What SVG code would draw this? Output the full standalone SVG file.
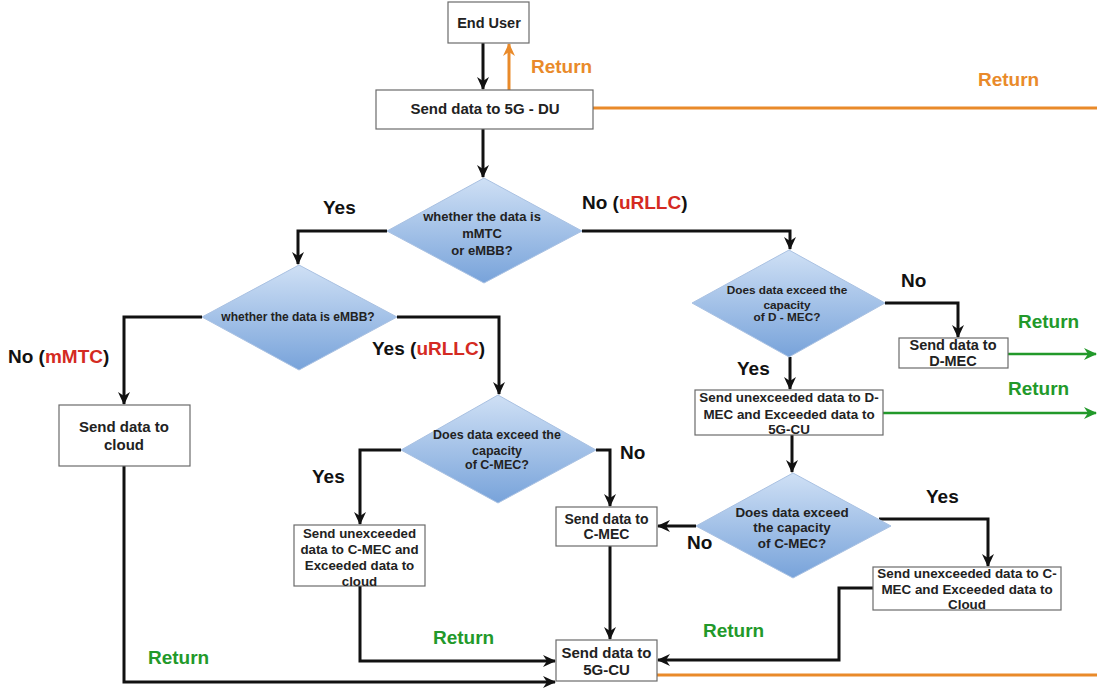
<svg xmlns="http://www.w3.org/2000/svg" width="1097" height="691" viewBox="0 0 1097 691">
<style>
.box{fill:#fff;stroke:#6b6b6b;stroke-width:1.2}
.dia{fill:url(#dg);stroke:#a9c1e2;stroke-width:1}
.t{font-family:"Liberation Sans",Arial,sans-serif;font-weight:bold;fill:#222;text-anchor:middle}
.lbl{font-family:"Liberation Sans",Arial,sans-serif;font-weight:bold;font-size:19px;fill:#111}
.red{fill:#d42a22}
.org{fill:#e98a2a}
.grn{fill:#22992a}
.blk{fill:none;stroke:#111;stroke-width:3}
.ol{fill:none;stroke:#e98a2a;stroke-width:3}
.gl{fill:none;stroke:#22992a;stroke-width:2.5}
</style>
<defs>
<linearGradient id="dg" x1="0" y1="0" x2="0" y2="1">
<stop offset="0" stop-color="#cfe0f5"/>
<stop offset="1" stop-color="#78a3da"/>
</linearGradient>
<marker id="ab" markerUnits="userSpaceOnUse" markerWidth="14" markerHeight="14" refX="12" refY="7" orient="auto">
<path d="M0,1 L13,7 L0,13 L4,7 Z" fill="#111"/>
</marker>
<marker id="ao" markerUnits="userSpaceOnUse" markerWidth="14" markerHeight="14" refX="12" refY="7" orient="auto">
<path d="M0,1 L13,7 L0,13 L4,7 Z" fill="#e98a2a"/>
</marker>
<marker id="ag" markerUnits="userSpaceOnUse" markerWidth="14" markerHeight="14" refX="12" refY="7" orient="auto">
<path d="M0,1 L13,7 L0,13 L4,7 Z" fill="#22992a"/>
</marker>
</defs>

<g id="connectors">
<path class="blk" d="M483,43 V89" marker-end="url(#ab)"/>
<path class="blk" d="M483,129 V177" marker-end="url(#ab)"/>
<path class="blk" d="M387,231 H298 V264" marker-end="url(#ab)"/>
<path class="blk" d="M202,317 H124 V404" marker-end="url(#ab)"/>
<path class="blk" d="M397,317 H499 V394" marker-end="url(#ab)"/>
<path class="blk" d="M401,450 H360 V524" marker-end="url(#ab)"/>
<path class="blk" d="M596,450 H610 V506" marker-end="url(#ab)"/>
<path class="blk" d="M610,546 V639" marker-end="url(#ab)"/>
<path class="blk" d="M360,586 V661 H555" marker-end="url(#ab)"/>
<path class="blk" d="M124,466 V682 H555" marker-end="url(#ab)"/>
<path class="blk" d="M582,231 H790 V249" marker-end="url(#ab)"/>
<path class="blk" d="M885,303 H958 V337" marker-end="url(#ab)"/>
<path class="blk" d="M790,357 V389" marker-end="url(#ab)"/>
<path class="blk" d="M792,435 V472" marker-end="url(#ab)"/>
<path class="blk" d="M696,526 H658" marker-end="url(#ab)"/>
<path class="blk" d="M879,519 H988 V566" marker-end="url(#ab)"/>
<path class="blk" d="M873,588 H839 V660 H658" marker-end="url(#ab)"/>
<path class="ol" d="M509,90 V44" marker-end="url(#ao)"/>
<path class="ol" d="M593,108 H1097"/>
<path class="ol" d="M657,675 H1097"/>
<path class="gl" d="M1008,354 H1096" marker-end="url(#ag)"/>
<path class="gl" d="M883,413 H1096" marker-end="url(#ag)"/>
</g>

<g id="labels">
<text class="lbl org" x="531" y="73">Return</text>
<text class="lbl org" x="978" y="86">Return</text>
<text class="lbl" x="323" y="214">Yes</text>
<text class="lbl" x="582" y="209">No (<tspan class="red">uRLLC</tspan>)</text>
<text class="lbl" x="372" y="355">Yes (<tspan class="red">uRLLC</tspan>)</text>
<text class="lbl" x="8" y="363">No (<tspan class="red">mMTC</tspan>)</text>
<text class="lbl" x="312" y="483">Yes</text>
<text class="lbl" x="620" y="459">No</text>
<text class="lbl grn" x="433" y="644">Return</text>
<text class="lbl grn" x="148" y="664">Return</text>
<text class="lbl" x="901" y="287">No</text>
<text class="lbl grn" x="1018" y="328">Return</text>
<text class="lbl" x="737" y="375">Yes</text>
<text class="lbl grn" x="1008" y="395">Return</text>
<text class="lbl" x="926" y="503">Yes</text>
<text class="lbl" x="687" y="549">No</text>
<text class="lbl grn" x="703" y="637">Return</text>
</g>

<g id="end-user">
<rect class="box" x="448" y="2" width="81" height="41"/>
<text class="t" x="489" y="28" font-size="14.5">End User</text>
</g>
<g id="send-5g-du">
<rect class="box" x="376" y="90" width="217" height="39"/>
<text class="t" x="485" y="114" font-size="15">Send data to 5G - DU</text>
</g>
<g id="dec-mmtc-embb">
<polygon class="dia" points="484,178 582,231 484,283 387,231"/>
<text class="t" x="482" y="220.5" font-size="13">whether the data is</text>
<text class="t" x="482" y="237.5" font-size="13">mMTC</text>
<text class="t" x="482" y="254.5" font-size="13">or eMBB?</text>
</g>
<g id="dec-embb">
<polygon class="dia" points="299,265 397,317 299,370 202,317"/>
<text class="t" x="298" y="321" font-size="12">whether the data is eMBB?</text>
</g>
<g id="send-cloud">
<rect class="box" x="59" y="405" width="131" height="61"/>
<text class="t" x="124" y="432" font-size="15">Send data to</text>
<text class="t" x="124" y="450" font-size="15">cloud</text>
</g>
<g id="dec-cmec-1">
<polygon class="dia" points="498,395 596,450 498,503 401,450"/>
<text class="t" x="497" y="438.5" font-size="12.5">Does data exceed the</text>
<text class="t" x="497" y="454.5" font-size="12.5">capacity</text>
<text class="t" x="497" y="468.5" font-size="12.5">of C-MEC?</text>
</g>
<g id="split-cmec-cloud">
<rect class="box" x="294" y="525" width="131" height="61"/>
<text class="t" x="359.5" y="537.5" font-size="13.3">Send unexceeded</text>
<text class="t" x="359.5" y="553.5" font-size="13.3">data to C-MEC and</text>
<text class="t" x="359.5" y="569.5" font-size="13.3">Exceeded data to</text>
<text class="t" x="359.5" y="585.5" font-size="13.3">cloud</text>
</g>
<g id="send-cmec">
<rect class="box" x="556" y="507" width="101" height="39"/>
<text class="t" x="606.5" y="524" font-size="14">Send data to</text>
<text class="t" x="606.5" y="539" font-size="14">C-MEC</text>
</g>
<g id="send-5g-cu">
<rect class="box" x="556" y="640" width="101" height="41"/>
<text class="t" x="606.5" y="658" font-size="15">Send data to</text>
<text class="t" x="606.5" y="675" font-size="15">5G-CU</text>
</g>
<g id="dec-dmec">
<polygon class="dia" points="789,250 885,303 789,357 692,303"/>
<text class="t" x="787" y="294" font-size="11.8">Does data exceed the</text>
<text class="t" x="787" y="309" font-size="11.8">capacity</text>
<text class="t" x="787" y="321" font-size="11.8">of D - MEC?</text>
</g>
<g id="send-dmec">
<rect class="box" x="899" y="338" width="109" height="30"/>
<text class="t" x="953" y="350" font-size="14.5">Send data to</text>
<text class="t" x="953" y="366" font-size="14.5">D-MEC</text>
</g>
<g id="split-dmec-cu">
<rect class="box" x="695" y="390" width="188" height="45"/>
<text class="t" x="789" y="401.5" font-size="13.4">Send unexceeded data to D-</text>
<text class="t" x="789" y="418.5" font-size="13.4">MEC and Exceeded data to</text>
<text class="t" x="789" y="433.5" font-size="13.4">5G-CU</text>
</g>
<g id="dec-cmec-2">
<polygon class="dia" points="793,473 891,526 793,578 696,526"/>
<text class="t" x="792" y="516.5" font-size="13.4">Does data exceed</text>
<text class="t" x="792" y="531.5" font-size="13.4">the capacity</text>
<text class="t" x="792" y="547.5" font-size="13.4">of C-MEC?</text>
</g>
<g id="split-cmec-cloud-2">
<rect class="box" x="873" y="567" width="188" height="43"/>
<text class="t" x="967" y="577.5" font-size="13.4">Send unexceeded data to C-</text>
<text class="t" x="967" y="593.5" font-size="13.4">MEC and Exceeded data to</text>
<text class="t" x="967" y="608.5" font-size="13.4">Cloud</text>
</g>
</svg>
